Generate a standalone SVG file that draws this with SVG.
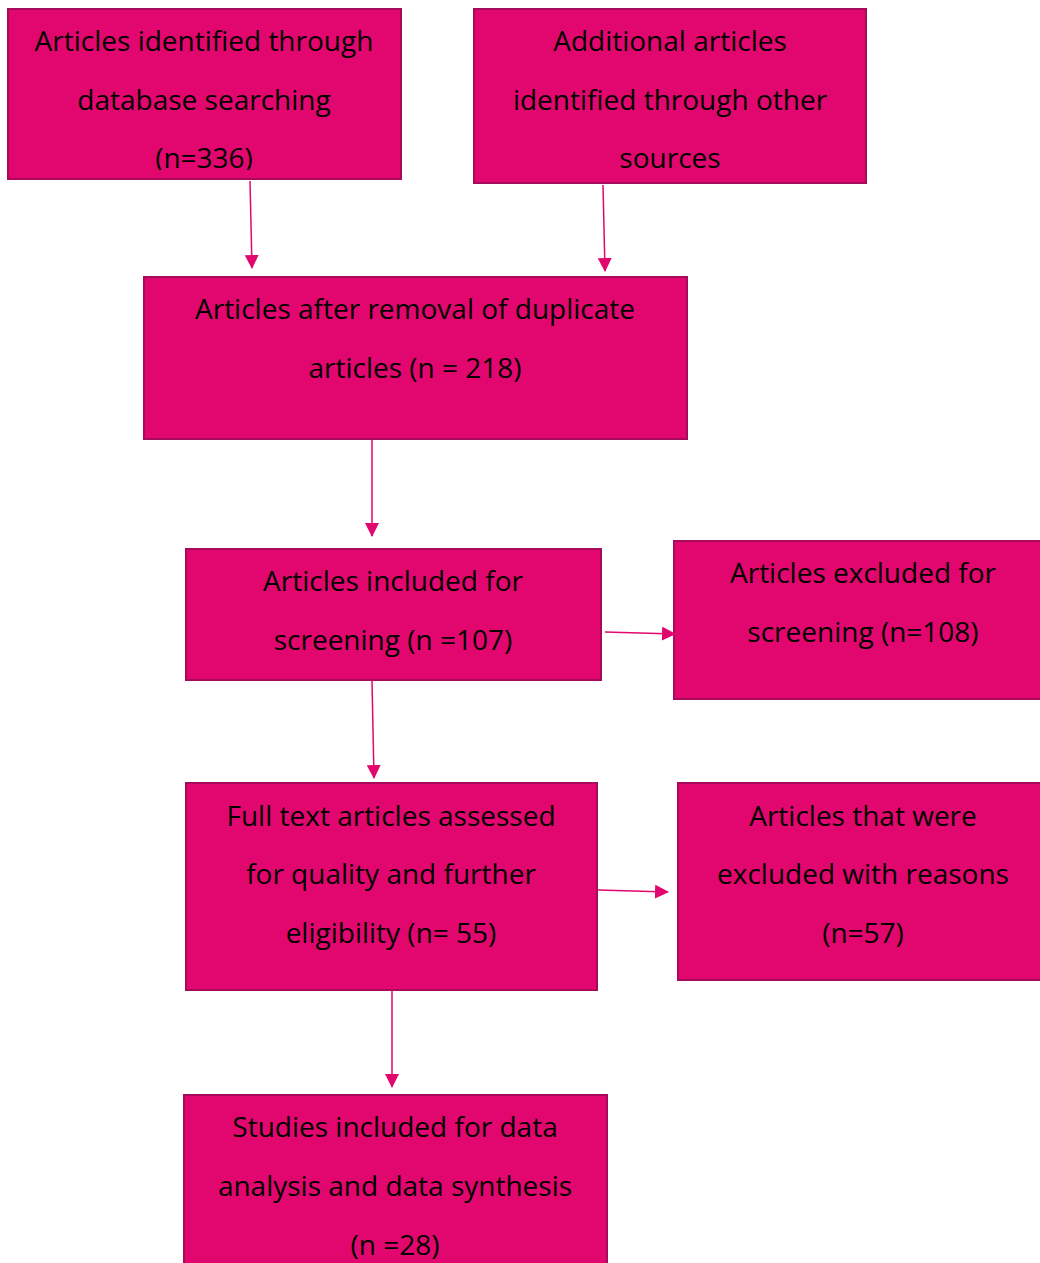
<svg xmlns="http://www.w3.org/2000/svg" width="1040" height="1263" viewBox="0 0 1040 1263">
<style>
.box{fill:#E2076E;stroke:#A60A5A;stroke-width:2}
.t{font-family:"Open Sans","Liberation Sans",sans-serif;font-size:28px;fill:#000;text-anchor:middle}
.c{stroke:#E2076E;stroke-width:1.5;fill:none}
</style>
<defs>
<marker id="ah" markerWidth="14" markerHeight="14" refX="13" refY="7" orient="auto" markerUnits="userSpaceOnUse" viewBox="0 0 14 14">
<path d="M0,0 L14,7 L0,14 Z" fill="#E2076E"/>
</marker>
<clipPath id="c1"><rect x="8" y="9" width="393" height="161"/></clipPath>
</defs>
<rect width="1040" height="1263" fill="#fff"/>
<g id="n1">
<rect class="box" x="8" y="9" width="393" height="170"/>
<g clip-path="url(#c1)">
<text class="t" x="204" y="51">Articles identified through</text>
<text class="t" x="204" y="110">database searching</text>
<text class="t" x="204" y="168">(n=336)</text>
</g>
</g>
<g id="n2">
<rect class="box" x="474" y="9" width="392" height="174"/>
<text class="t" x="670" y="51">Additional articles</text>
<text class="t" x="670" y="110">identified through other</text>
<text class="t" x="670" y="168">sources</text>
</g>
<g id="n3">
<rect class="box" x="144" y="277" width="543" height="162"/>
<text class="t" x="415" y="319">Articles after removal of duplicate</text>
<text class="t" x="415" y="378">articles (n = 218)</text>
</g>
<g id="n4">
<rect class="box" x="186" y="549" width="415" height="131"/>
<text class="t" x="393" y="591">Articles included for</text>
<text class="t" x="393" y="650">screening (n =107)</text>
</g>
<g id="n5">
<rect class="box" x="674" y="541" width="380" height="158"/>
<text class="t" x="863" y="583">Articles excluded for</text>
<text class="t" x="863" y="642">screening (n=108)</text>
</g>
<g id="n6">
<rect class="box" x="186" y="783" width="411" height="207"/>
<text class="t" x="391" y="826">Full text articles assessed</text>
<text class="t" x="391" y="884">for quality and further</text>
<text class="t" x="391" y="943">eligibility (n= 55)</text>
</g>
<g id="n7">
<rect class="box" x="678" y="783" width="376" height="197"/>
<text class="t" x="863" y="826">Articles that were</text>
<text class="t" x="863" y="884">excluded with reasons</text>
<text class="t" x="863" y="943">(n=57)</text>
</g>
<g id="n8">
<rect class="box" x="184" y="1095" width="423" height="180"/>
<text class="t" x="395" y="1137">Studies included for data</text>
<text class="t" x="395" y="1196">analysis and data synthesis</text>
<text class="t" x="395" y="1255">(n =28)</text>
</g>
<g id="connectors">
<line class="c" x1="250" y1="181" x2="252" y2="268" marker-end="url(#ah)"/>
<line class="c" x1="603" y1="185" x2="605" y2="271" marker-end="url(#ah)"/>
<line class="c" x1="372" y1="440" x2="372" y2="536" marker-end="url(#ah)"/>
<line class="c" x1="605" y1="632" x2="675" y2="634" marker-end="url(#ah)"/>
<line class="c" x1="372" y1="681" x2="374" y2="778" marker-end="url(#ah)"/>
<line class="c" x1="598" y1="890" x2="668" y2="892" marker-end="url(#ah)"/>
<line class="c" x1="392" y1="991" x2="392" y2="1087" marker-end="url(#ah)"/>
</g>
</svg>
